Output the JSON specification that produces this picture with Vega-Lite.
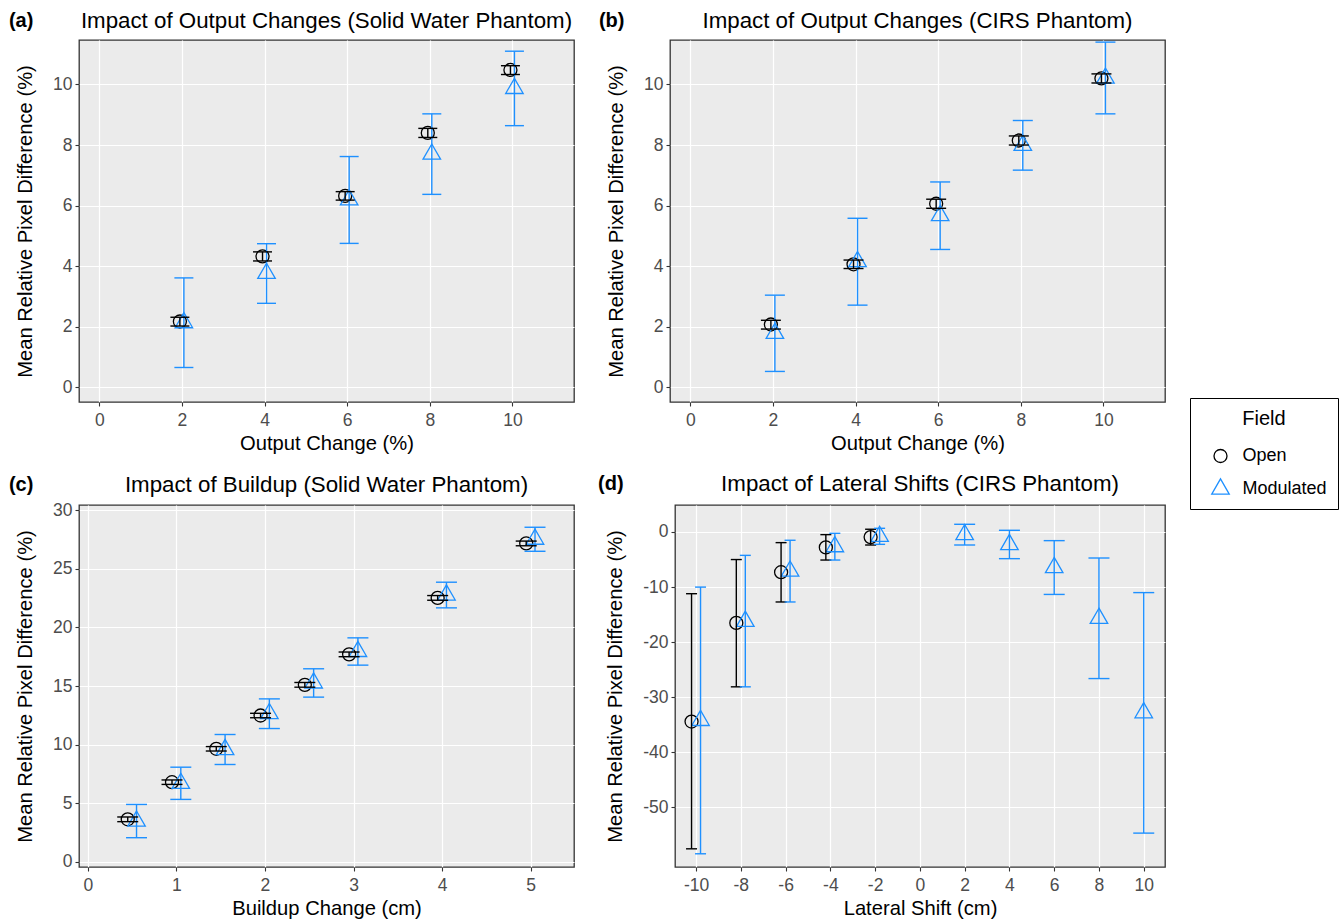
{
  "$schema": "https://vega.github.io/schema/vega-lite/v6.json",
  "padding": {"left": 8, "top": 9, "right": 0, "bottom": 0},
  "background": "white",
  "datasets": {
    "a": [
      {"x": 2, "Field": "Open", "mean": 2.17, "lo": 2.02, "hi": 2.31},
      {"x": 4, "Field": "Open", "mean": 4.32, "lo": 4.17, "hi": 4.47},
      {"x": 6, "Field": "Open", "mean": 6.32, "lo": 6.18, "hi": 6.46},
      {"x": 8, "Field": "Open", "mean": 8.40, "lo": 8.25, "hi": 8.55},
      {"x": 10, "Field": "Open", "mean": 10.48, "lo": 10.33, "hi": 10.62},
      {"x": 2, "Field": "Modulated", "mean": 2.13, "lo": 0.65, "hi": 3.61},
      {"x": 4, "Field": "Modulated", "mean": 3.76, "lo": 2.77, "hi": 4.74},
      {"x": 6, "Field": "Modulated", "mean": 6.19, "lo": 4.75, "hi": 7.62},
      {"x": 8, "Field": "Modulated", "mean": 7.70, "lo": 6.37, "hi": 9.03},
      {"x": 10, "Field": "Modulated", "mean": 9.87, "lo": 8.64, "hi": 11.10}
    ],
    "b": [
      {"x": 2, "Field": "Open", "mean": 2.07, "lo": 1.92, "hi": 2.21},
      {"x": 4, "Field": "Open", "mean": 4.06, "lo": 3.92, "hi": 4.20},
      {"x": 6, "Field": "Open", "mean": 6.06, "lo": 5.91, "hi": 6.21},
      {"x": 8, "Field": "Open", "mean": 8.15, "lo": 8.00, "hi": 8.30},
      {"x": 10, "Field": "Open", "mean": 10.20, "lo": 10.05, "hi": 10.35},
      {"x": 2, "Field": "Modulated", "mean": 1.78, "lo": 0.52, "hi": 3.04},
      {"x": 4, "Field": "Modulated", "mean": 4.15, "lo": 2.71, "hi": 5.58},
      {"x": 6, "Field": "Modulated", "mean": 5.67, "lo": 4.55, "hi": 6.78},
      {"x": 8, "Field": "Modulated", "mean": 7.99, "lo": 7.17, "hi": 8.81},
      {"x": 10, "Field": "Modulated", "mean": 10.21, "lo": 9.03, "hi": 11.40}
    ],
    "c": [
      {"x": 0.5, "Field": "Open", "mean": 3.62, "lo": 3.42, "hi": 3.82},
      {"x": 1, "Field": "Open", "mean": 6.79, "lo": 6.60, "hi": 6.98},
      {"x": 1.5, "Field": "Open", "mean": 9.64, "lo": 9.45, "hi": 9.83},
      {"x": 2, "Field": "Open", "mean": 12.48, "lo": 12.29, "hi": 12.67},
      {"x": 2.5, "Field": "Open", "mean": 15.10, "lo": 14.90, "hi": 15.30},
      {"x": 3, "Field": "Open", "mean": 17.70, "lo": 17.50, "hi": 17.90},
      {"x": 4, "Field": "Open", "mean": 22.52, "lo": 22.32, "hi": 22.72},
      {"x": 5, "Field": "Open", "mean": 27.17, "lo": 26.97, "hi": 27.37},
      {"x": 0.5, "Field": "Modulated", "mean": 3.47, "lo": 2.05, "hi": 4.89},
      {"x": 1, "Field": "Modulated", "mean": 6.69, "lo": 5.32, "hi": 8.07},
      {"x": 1.5, "Field": "Modulated", "mean": 9.58, "lo": 8.30, "hi": 10.86},
      {"x": 2, "Field": "Modulated", "mean": 12.64, "lo": 11.37, "hi": 13.90},
      {"x": 2.5, "Field": "Modulated", "mean": 15.26, "lo": 14.05, "hi": 16.47},
      {"x": 3, "Field": "Modulated", "mean": 17.95, "lo": 16.78, "hi": 19.11},
      {"x": 4, "Field": "Modulated", "mean": 22.77, "lo": 21.67, "hi": 23.86},
      {"x": 5, "Field": "Modulated", "mean": 27.53, "lo": 26.50, "hi": 28.55}
    ],
    "d": [
      {"x": -10, "Field": "Open", "mean": -34.4, "lo": -57.5, "hi": -11.2},
      {"x": -8, "Field": "Open", "mean": -16.5, "lo": -28.1, "hi": -5.0},
      {"x": -6, "Field": "Open", "mean": -7.3, "lo": -12.7, "hi": -1.93},
      {"x": -4, "Field": "Open", "mean": -2.8, "lo": -5.09, "hi": -0.48},
      {"x": -2, "Field": "Open", "mean": -0.93, "lo": -2.36, "hi": 0.5},
      {"x": -10, "Field": "Modulated", "mean": -34.2, "lo": -58.4, "hi": -10.0},
      {"x": -8, "Field": "Modulated", "mean": -16.2, "lo": -28.1, "hi": -4.24},
      {"x": -6, "Field": "Modulated", "mean": -7.1, "lo": -12.7, "hi": -1.5},
      {"x": -4, "Field": "Modulated", "mean": -2.67, "lo": -5.09, "hi": -0.24},
      {"x": -2, "Field": "Modulated", "mean": -0.79, "lo": -2.24, "hi": 0.67},
      {"x": 2, "Field": "Modulated", "mean": -0.48, "lo": -2.36, "hi": 1.4},
      {"x": 4, "Field": "Modulated", "mean": -2.27, "lo": -4.84, "hi": 0.31},
      {"x": 6, "Field": "Modulated", "mean": -6.45, "lo": -11.33, "hi": -1.57},
      {"x": 8, "Field": "Modulated", "mean": -15.66, "lo": -26.6, "hi": -4.72},
      {"x": 10, "Field": "Modulated", "mean": -32.8, "lo": -54.65, "hi": -11.0}
    ]
  },
  "vconcat": [
    {
      "hconcat": [
        {
          "title": {"text": "(a)", "anchor": "start", "frame": "bounds", "offset": -22, "dx": -6, "fontWeight": "bold", "fontSize": 20},
          "vconcat": [
            {
              "title": {"text": "Impact of Output Changes (Solid Water Phantom)"},
              "width": 495, "height": 362,
              "data": {"name": "a"},
              "encoding": {
                "x": {"field": "x", "type": "quantitative", "scale": {"domain": [-0.49, 11.49], "nice": false, "zero": false}, "axis": {"values": [0, 2, 4, 6, 8, 10]}, "title": "Output Change (%)"}
              },
              "layer": [
                {"mark": {"type": "point", "filled": false, "strokeWidth": 1.3, "size": 169, "opacity": 1, "xOffset": {"expr": "datum.Field === 'Open' ? -2 : 2"}},
                 "encoding": {"y": {"field": "mean", "type": "quantitative", "scale": {"domain": [-0.49, 11.47], "nice": false, "zero": false}, "axis": {"values": [0, 2, 4, 6, 8, 10]}, "title": "Mean Relative Pixel Difference (%)"},
                   "color": {"field": "Field", "type": "nominal", "scale": {"domain": ["Open", "Modulated"], "range": ["#000000", "#1E90FF"]}, "title": "Field",
                     "legend": {"encode": {"symbols": {"update": {"shape": {"signal": "datum.value === 'Open' ? 'M-1,0A1,1 0 1,1 1,0A1,1 0 1,1 -1,0M-1.9,0L1.9,0' : 'M0,-1.555L1.347,0.778L-1.347,0.778ZM-1.9,0L1.9,0'"}}}}}},
                   "shape": {"field": "Field", "type": "nominal", "scale": {"domain": ["Open", "Modulated"], "range": ["circle", "M0,-1.555L1.347,0.778L-1.347,0.778Z"]}, "title": "Field",
                     "legend": {"encode": {"symbols": {"update": {"shape": {"signal": "datum.value === 'Open' ? 'M-1,0A1,1 0 1,1 1,0A1,1 0 1,1 -1,0M-1.9,0L1.9,0' : 'M0,-1.555L1.347,0.778L-1.347,0.778ZM-1.9,0L1.9,0'"}}}}}}}},
                {"mark": {"type": "rule", "strokeWidth": 1.4, "xOffset": {"expr": "datum.Field === 'Open' ? -2 : 2"}},
                 "encoding": {"y": {"field": "lo", "type": "quantitative", "title": "Mean Relative Pixel Difference (%)"}, "y2": {"field": "hi"},
                   "color": {"condition": {"test": "datum.Field === 'Open'", "value": "#000000"}, "value": "#1E90FF"}}},
                {"mark": {"type": "tick", "orient": "horizontal", "thickness": 1.4, "size": 19, "opacity": 1, "xOffset": {"expr": "datum.Field === 'Open' ? -2 : 2"}},
                 "encoding": {"y": {"field": "lo", "type": "quantitative", "title": "Mean Relative Pixel Difference (%)"},
                   "color": {"condition": {"test": "datum.Field === 'Open'", "value": "#000000"}, "value": "#1E90FF"}}},
                {"mark": {"type": "tick", "orient": "horizontal", "thickness": 1.4, "size": 19, "opacity": 1, "xOffset": {"expr": "datum.Field === 'Open' ? -2 : 2"}},
                 "encoding": {"y": {"field": "hi", "type": "quantitative", "title": "Mean Relative Pixel Difference (%)"},
                   "color": {"condition": {"test": "datum.Field === 'Open'", "value": "#000000"}, "value": "#1E90FF"}}}
              ]
            }
          ]
        },
        {
          "title": {"text": "(b)", "anchor": "start", "frame": "bounds", "offset": -22, "dx": -7, "fontWeight": "bold", "fontSize": 20},
          "vconcat": [
            {
              "title": {"text": "Impact of Output Changes (CIRS Phantom)"},
              "width": 495, "height": 362,
              "data": {"name": "b"},
              "encoding": {
                "x": {"field": "x", "type": "quantitative", "scale": {"domain": [-0.49, 11.49], "nice": false, "zero": false}, "axis": {"values": [0, 2, 4, 6, 8, 10]}, "title": "Output Change (%)"}
              },
              "layer": [
                {"mark": {"type": "point", "filled": false, "strokeWidth": 1.3, "size": 169, "opacity": 1, "xOffset": {"expr": "datum.Field === 'Open' ? -2 : 2"}},
                 "encoding": {"y": {"field": "mean", "type": "quantitative", "scale": {"domain": [-0.49, 11.47], "nice": false, "zero": false}, "axis": {"values": [0, 2, 4, 6, 8, 10]}, "title": "Mean Relative Pixel Difference (%)"},
                   "color": {"field": "Field", "type": "nominal", "title": "Field"},
                   "shape": {"field": "Field", "type": "nominal", "title": "Field"}}},
                {"mark": {"type": "rule", "strokeWidth": 1.4, "xOffset": {"expr": "datum.Field === 'Open' ? -2 : 2"}},
                 "encoding": {"y": {"field": "lo", "type": "quantitative", "title": "Mean Relative Pixel Difference (%)"}, "y2": {"field": "hi"},
                   "color": {"condition": {"test": "datum.Field === 'Open'", "value": "#000000"}, "value": "#1E90FF"}}},
                {"mark": {"type": "tick", "orient": "horizontal", "thickness": 1.4, "size": 20, "opacity": 1, "xOffset": {"expr": "datum.Field === 'Open' ? -2 : 2"}},
                 "encoding": {"y": {"field": "lo", "type": "quantitative", "title": "Mean Relative Pixel Difference (%)"},
                   "color": {"condition": {"test": "datum.Field === 'Open'", "value": "#000000"}, "value": "#1E90FF"}}},
                {"mark": {"type": "tick", "orient": "horizontal", "thickness": 1.4, "size": 20, "opacity": 1, "xOffset": {"expr": "datum.Field === 'Open' ? -2 : 2"}},
                 "encoding": {"y": {"field": "hi", "type": "quantitative", "title": "Mean Relative Pixel Difference (%)"},
                   "color": {"condition": {"test": "datum.Field === 'Open'", "value": "#000000"}, "value": "#1E90FF"}}}
              ]
            }
          ]
        }
      ]
    },
    {
      "hconcat": [
        {
          "title": {"text": "(c)", "anchor": "start", "frame": "bounds", "offset": -22, "dx": -6, "fontWeight": "bold", "fontSize": 20},
          "vconcat": [
            {
              "title": {"text": "Impact of Buildup (Solid Water Phantom)", "offset": 5},
              "width": 495, "height": 362,
              "data": {"name": "c"},
              "encoding": {
                "x": {"field": "x", "type": "quantitative", "scale": {"domain": [-0.1, 5.49], "nice": false, "zero": false}, "axis": {"values": [0, 1, 2, 3, 4, 5]}, "title": "Buildup Change (cm)"}
              },
              "layer": [
                {"mark": {"type": "point", "filled": false, "strokeWidth": 1.3, "size": 169, "opacity": 1, "xOffset": {"expr": "datum.Field === 'Open' ? -4.4 : 4.4"}},
                 "encoding": {"y": {"field": "mean", "type": "quantitative", "scale": {"domain": [-0.45, 30.45], "nice": false, "zero": false}, "axis": {"values": [0, 5, 10, 15, 20, 25, 30]}, "title": "Mean Relative Pixel Difference (%)"},
                   "color": {"field": "Field", "type": "nominal", "title": "Field"},
                   "shape": {"field": "Field", "type": "nominal", "title": "Field"}}},
                {"mark": {"type": "rule", "strokeWidth": 1.4, "xOffset": {"expr": "datum.Field === 'Open' ? -4.4 : 4.4"}},
                 "encoding": {"y": {"field": "lo", "type": "quantitative", "title": "Mean Relative Pixel Difference (%)"}, "y2": {"field": "hi"},
                   "color": {"condition": {"test": "datum.Field === 'Open'", "value": "#000000"}, "value": "#1E90FF"}}},
                {"mark": {"type": "tick", "orient": "horizontal", "thickness": 1.4, "size": 21, "opacity": 1, "xOffset": {"expr": "datum.Field === 'Open' ? -4.4 : 4.4"}},
                 "encoding": {"y": {"field": "lo", "type": "quantitative", "title": "Mean Relative Pixel Difference (%)"},
                   "color": {"condition": {"test": "datum.Field === 'Open'", "value": "#000000"}, "value": "#1E90FF"}}},
                {"mark": {"type": "tick", "orient": "horizontal", "thickness": 1.4, "size": 21, "opacity": 1, "xOffset": {"expr": "datum.Field === 'Open' ? -4.4 : 4.4"}},
                 "encoding": {"y": {"field": "hi", "type": "quantitative", "title": "Mean Relative Pixel Difference (%)"},
                   "color": {"condition": {"test": "datum.Field === 'Open'", "value": "#000000"}, "value": "#1E90FF"}}}
              ]
            }
          ]
        },
        {
          "title": {"text": "(d)", "anchor": "start", "frame": "bounds", "offset": -22, "dx": -7, "fontWeight": "bold", "fontSize": 20},
          "vconcat": [
            {
              "title": {"text": "Impact of Lateral Shifts (CIRS Phantom)", "offset": 10},
              "width": 490, "height": 362,
              "data": {"name": "d"},
              "encoding": {
                "x": {"field": "x", "type": "quantitative", "scale": {"domain": [-10.94, 10.95], "nice": false, "zero": false}, "axis": {"values": [-10, -8, -6, -4, -2, 0, 2, 4, 6, 8, 10], "labelExpr": "'' + datum.value"}, "title": "Lateral Shift (cm)"}
              },
              "layer": [
                {"mark": {"type": "point", "filled": false, "strokeWidth": 1.3, "size": 169, "opacity": 1, "xOffset": {"expr": "datum.Field === 'Open' ? -4.5 : (datum.x > 0 ? 0 : 4.5)"}},
                 "encoding": {"y": {"field": "mean", "type": "quantitative", "scale": {"domain": [-60.8, 4.9], "nice": false, "zero": false}, "axis": {"values": [0, -10, -20, -30, -40, -50], "labelExpr": "'' + datum.value"}, "title": "Mean Relative Pixel Difference (%)"},
                   "color": {"field": "Field", "type": "nominal", "title": "Field"},
                   "shape": {"field": "Field", "type": "nominal", "title": "Field"}}},
                {"mark": {"type": "rule", "strokeWidth": 1.4, "xOffset": {"expr": "datum.Field === 'Open' ? -4.5 : (datum.x > 0 ? 0 : 4.5)"}},
                 "encoding": {"y": {"field": "lo", "type": "quantitative", "title": "Mean Relative Pixel Difference (%)"}, "y2": {"field": "hi"},
                   "color": {"condition": {"test": "datum.Field === 'Open'", "value": "#000000"}, "value": "#1E90FF"}}},
                {"mark": {"type": "tick", "orient": "horizontal", "thickness": 1.4, "opacity": 1, "xOffset": {"expr": "datum.Field === 'Open' ? -4.5 : (datum.x > 0 ? 0 : 4.5)"}},
                 "encoding": {"y": {"field": "lo", "type": "quantitative", "title": "Mean Relative Pixel Difference (%)"},
                   "color": {"condition": {"test": "datum.Field === 'Open'", "value": "#000000"}, "value": "#1E90FF"},
                   "size": {"condition": {"test": "datum.x > 0", "value": 21}, "value": 11}}},
                {"mark": {"type": "tick", "orient": "horizontal", "thickness": 1.4, "opacity": 1, "xOffset": {"expr": "datum.Field === 'Open' ? -4.5 : (datum.x > 0 ? 0 : 4.5)"}},
                 "encoding": {"y": {"field": "hi", "type": "quantitative", "title": "Mean Relative Pixel Difference (%)"},
                   "color": {"condition": {"test": "datum.Field === 'Open'", "value": "#000000"}, "value": "#1E90FF"},
                   "size": {"condition": {"test": "datum.x > 0", "value": 21}, "value": 11}}}
              ]
            }
          ]
        }
      ]
    }
  ],
  "spacing": 17,
  "config": {
    "font": "Liberation Sans",
    "concat": {"spacing": 23},
    "view": {"fill": "#EBEBEB", "stroke": "#333333", "strokeWidth": 1.3},
    "title": {"font": "Liberation Sans", "fontSize": 22.3, "fontWeight": "normal", "color": "#000000", "offset": 8},
    "axis": {
      "domain": false, "grid": true, "gridColor": "#FFFFFF", "gridWidth": 1.2,
      "tickColor": "#333333", "tickSize": 4, "tickWidth": 1.1,
      "labelColor": "#4D4D4D", "labelFontSize": 17.5, "labelFont": "Liberation Sans", "labelPadding": 3,
      "labelFlush": false, "labelOverlap": false,
      "titleFont": "Liberation Sans", "titleFontSize": 20.2, "titleColor": "#000000", "titleFontWeight": "normal", "titlePadding": 5
    },
    "axisX": {"labelPadding": 5, "titlePadding": 5},
    "axisY": {"titlePadding": 17},
    "legend": {
      "orient": "none", "legendX": 1111, "legendY": 358,
      "strokeColor": "#000000", "fillColor": "#FFFFFF", "padding": 11,
      "titleFont": "Liberation Sans", "titleFontSize": 20, "titleFontWeight": "normal", "titleColor": "#000000", "titleAnchor": "middle", "titlePadding": 18,
      "labelFont": "Liberation Sans", "labelFontSize": 18, "labelColor": "#000000", "labelOffset": 13,
      "symbolSize": 169, "symbolStrokeWidth": 1.3, "symbolOffset": 10.5, "rowPadding": 10
    }
  }
}
